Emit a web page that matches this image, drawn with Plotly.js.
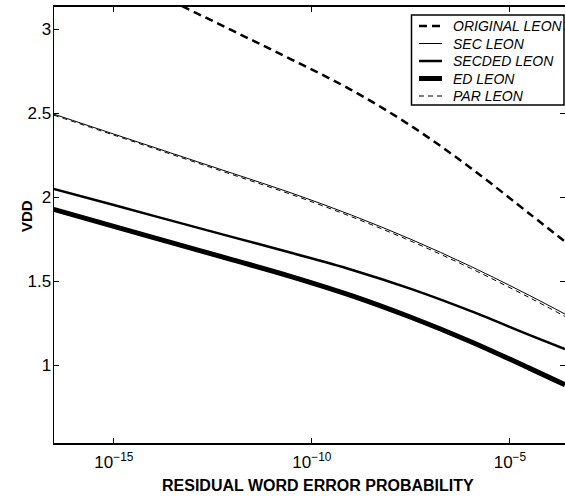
<!DOCTYPE html>
<html>
<head>
<meta charset="utf-8">
<script src="https://cdn.plot.ly/plotly-3.0.1.min.js"></script>
<style>html,body{margin:0;padding:0;background:#fff;}</style>
</head>
<body>
<div id="chart" style="width:565px;height:500px;"></div>
<script>
// x values: log10 of the residual word error probability
var errExp = [-16.52, -15, -13.5, -12, -10.5, -9, -7.5, -6, -4.5, -3.61];

var originalVdd = [3.511, 3.336, 3.163, 2.991, 2.818, 2.638, 2.425, 2.176, 1.901, 1.736];
var secVdd      = [2.495, 2.376, 2.259, 2.142, 2.024, 1.894, 1.750, 1.590, 1.415, 1.305];
var secdedVdd   = [2.050, 1.954, 1.858, 1.763, 1.668, 1.569, 1.455, 1.324, 1.180, 1.096];
var edVdd       = [1.928, 1.827, 1.727, 1.628, 1.527, 1.415, 1.286, 1.142, 0.982, 0.884];
var parVdd      = [2.489, 2.370, 2.252, 2.134, 2.015, 1.884, 1.739, 1.578, 1.402, 1.291];

var seriesNames = ['ORIGINAL LEON', 'SEC LEON', 'SECDED LEON', 'ED LEON', 'PAR LEON'];

var xTickVals = [1e-15, 1e-10, 1e-5];
var xTickText = ['10<sup>\u221215</sup>', '10<sup>\u221210</sup>', '10<sup>\u22125</sup>'];
var yTickVals = [1, 1.5, 2, 2.5, 3];
var yTickText = ['1', '1.5', '2', '2.5', '3'];

var xTitle = 'RESIDUAL WORD ERROR PROBABILITY';
var yTitle = 'VDD';

var errX = errExp.map(function (e) { return Math.pow(10, e); });

var styles = [
  {color: '#000', width: 2.5, dash: '8px,5px'},
  {color: '#000', width: 1, dash: 'solid'},
  {color: '#000', width: 2.5, dash: 'solid'},
  {color: '#000', width: 5, dash: 'solid'},
  {color: '#000', width: 1, dash: '5px,4px'}
];
var ys = [originalVdd, secVdd, secdedVdd, edVdd, parVdd];

var traces = seriesNames.map(function (n, i) {
  return {
    name: n, x: errX, y: ys[i], mode: 'lines', showlegend: false,
    line: {color: styles[i].color, width: styles[i].width, dash: styles[i].dash,
           shape: 'spline', smoothing: 1}
  };
});

// geometry (pixels -> paper)
var W = 565, H = 500, mL = 54, mR = 0, mT = 7, mB = 57;
var pw = W - mL - mR, ph = H - mT - mB;
function px(x) { return (x - mL) / pw; }
function py(y) { return (H - mB - y) / ph; }

var shapes = [];
var annotations = [];
var FONT = 'Liberation Sans, Arial, sans-serif';

// legend box
shapes.push({type: 'rect', xref: 'paper', yref: 'paper', layer: 'above',
  x0: px(411.5), x1: px(564), y0: py(105), y1: py(15),
  line: {color: '#000', width: 1.5}, fillcolor: '#fff'});
var rowY = [26, 43.5, 61, 78.5, 96];
seriesNames.forEach(function (n, i) {
  shapes.push({type: 'line', xref: 'paper', yref: 'paper', layer: 'above',
    x0: px(419), x1: px(442), y0: py(rowY[i]), y1: py(rowY[i]),
    line: {color: styles[i].color, width: styles[i].width, dash: styles[i].dash}});
  annotations.push({xref: 'paper', yref: 'paper', x: px(451), y: py(rowY[i]),
    xanchor: 'left', yanchor: 'middle', showarrow: false, text: n,
    font: {size: 14, style: 'italic', color: '#000', family: FONT}});
});

// axis titles
annotations.push({xref: 'paper', yref: 'paper', x: px(318), y: py(485),
  xanchor: 'center', yanchor: 'middle', showarrow: false, text: xTitle,
  font: {size: 16, weight: 'bold', color: '#000', family: FONT}});
annotations.push({xref: 'paper', yref: 'paper', x: px(27), y: py(216),
  xanchor: 'center', yanchor: 'middle', showarrow: false, text: yTitle, textangle: -90,
  font: {size: 15, weight: 'bold', color: '#000', family: FONT}});

var layout = {
  width: W, height: H,
  margin: {l: mL, r: mR, t: mT, b: mB},
  paper_bgcolor: '#fff', plot_bgcolor: '#fff',
  font: {family: FONT, color: '#000'},
  showlegend: false,
  xaxis: {
    type: 'log', range: [-16.51, -3.61],
    tickvals: xTickVals, ticktext: xTickText,
    ticks: 'inside', ticklen: 5, tickwidth: 1, tickcolor: '#000',
    showline: true, linecolor: '#000', linewidth: 2, mirror: 'ticks',
    showgrid: false, zeroline: false, ticklabelstandoff: 3,
    tickfont: {size: 17}
  },
  yaxis: {
    range: [0.538, 3.132],
    tickvals: yTickVals, ticktext: yTickText,
    ticks: 'inside', ticklen: 5, tickwidth: 1, tickcolor: '#000',
    showline: true, linecolor: '#000', linewidth: 1.5, mirror: 'ticks',
    showgrid: false, zeroline: false, ticklabelstandoff: -2,
    tickfont: {size: 17}
  },
  shapes: shapes,
  annotations: annotations
};

Plotly.newPlot('chart', traces, layout, {displayModeBar: false, staticPlot: true});
</script>
</body>
</html>
